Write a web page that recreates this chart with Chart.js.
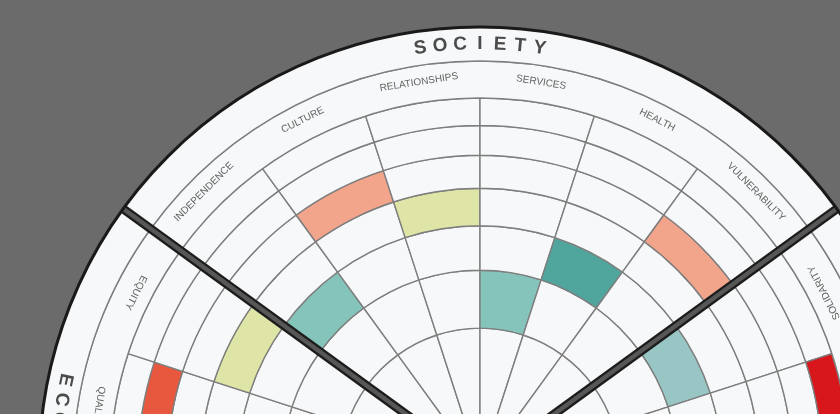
<!DOCTYPE html>
<html>
<head>
<meta charset="utf-8">
<script src="https://cdn.jsdelivr.net/npm/chart.js@4.4.1/dist/chart.umd.min.js"></script>
<style>
  html, body { margin: 0; padding: 0; width: 840px; height: 414px; overflow: hidden; background: #6b6b6b; }
  #wrap { position: absolute; left: 0; top: 0; width: 960px; height: 936px; }
</style>
</head>
<body>
<div id="wrap"><canvas id="wheel" width="960" height="936"></canvas></div>
<script>
// Sectors, clockwise starting with the top one
const sectorNames = ['SOCIETY', 'ENVIRONMENT', 'ECONOMY'];

// Society: left to right
const societyCategories = ['INDEPENDENCE', 'CULTURE', 'RELATIONSHIPS', 'SERVICES', 'HEALTH', 'VULNERABILITY'];
const societyScores = [3, 5, 4, 2, 3, 5];
const societyStatus = ['good', 'weak', 'moderate', 'good', 'strong', 'weak'];

// Environment: going down from the society separator
const environmentCategories = ['SOLIDARITY', 'RESOURCES', 'ENERGY', 'WATER', 'LAND', 'AIR', 'BIODIVERSITY'];
const environmentScores = [3, 7, null, null, null, null, null];
const environmentStatus = ['adequate', 'critical', null, null, null, null, null];

// Economy: going down from the society separator
const economyCategories = ['EQUITY', 'QUALITY', 'EMPLOYMENT', 'INCOME', 'INVESTMENT', 'INNOVATION', 'TRADE'];
const economyScores = [4, 6, null, null, null, null, null];
const economyStatus = ['moderate', 'poor', null, null, null, null, null];

// Score rings, inner (1) to outer (7)
const levels = [1, 2, 3, 4, 5, 6, 7];

// ---- styles ----
const STATUS_COLORS = {
  critical: '#d8171d',
  poor: '#e8583f',
  weak: '#f3a58b',
  moderate: '#dfe5a6',
  adequate: '#97c6c4',
  good: '#84c4bb',
  strong: '#50a69d'
};
const CELL = '#f7f8f9';
const GRID = '#7e7e7e';
const OUTER_R = 441;
const NAME_BAND = 34;
const LABEL_BAND = 37;
const DATA_R = OUTER_R - NAME_BAND - LABEL_BAND;

// clockwise order round the wheel (economy is listed top-down, so reverse it)
const allCategories = [...societyCategories, ...environmentCategories, ...economyCategories.slice().reverse()];
const allScores = [...societyScores, ...environmentScores, ...economyScores.slice().reverse()];
const allStatus = [...societyStatus, ...environmentStatus, ...economyStatus.slice().reverse()];
const sectorSizes = [societyCategories.length, environmentCategories.length, economyCategories.length];
const sectorOf = allCategories.map((_, i) => i < sectorSizes[0] ? 0 : (i < sectorSizes[0] + sectorSizes[1] ? 1 : 2));

// equal-area score rings
const ringRadius = k => DATA_R * Math.sqrt(k / levels.length);

const datasets = [
  { data: sectorSizes, weight: NAME_BAND, backgroundColor: CELL, borderColor: GRID, borderWidth: 1.4 },
  { data: sectorSizes, weight: LABEL_BAND, backgroundColor: CELL, borderColor: GRID, borderWidth: 1.4 }
];
levels.slice().reverse().forEach(k => {
  datasets.push({
    data: allCategories.map(() => 1),
    weight: ringRadius(k) - ringRadius(k - 1),
    backgroundColor: allScores.map((s, i) => s === k ? STATUS_COLORS[allStatus[i]] : CELL),
    borderColor: GRID,
    borderWidth: 1.4
  });
});

const wheelDecor = {
  id: 'wheelDecor',
  afterDatasetsDraw(chart) {
    const ctx = chart.ctx;
    const bands = chart.getDatasetMeta(0).data;
    const labelArcs = chart.getDatasetMeta(1).data;
    const cells = chart.getDatasetMeta(2).data;
    const cx = bands[0].x, cy = bands[0].y, R = bands[0].outerRadius;
    const nameR = (bands[0].innerRadius + bands[0].outerRadius) / 2;
    const labelR = (labelArcs[0].innerRadius + labelArcs[0].outerRadius) / 2 + 2;
    const deg = Math.PI / 180;

    // category labels
    ctx.save();
    ctx.font = '10px "Liberation Sans", Arial, sans-serif';
    ctx.fillStyle = '#636363';
    ctx.textAlign = 'center';
    ctx.textBaseline = 'middle';
    cells.forEach((c, i) => {
      const a = (c.startAngle + c.endAngle) / 2;
      const flip = sectorOf[i] !== 0;
      const r = flip ? labelR - 4 : labelR;
      ctx.save();
      ctx.translate(cx + r * Math.cos(a), cy + r * Math.sin(a));
      ctx.rotate(flip ? a - Math.PI / 2 : a + Math.PI / 2);
      ctx.fillText(allCategories[i], 0, 0);
      ctx.restore();
    });
    ctx.restore();

    // sector names, letter by letter along the band
    ctx.save();
    ctx.font = 'bold 19px "Liberation Sans", Arial, sans-serif';
    ctx.fillStyle = '#4b4b4b';
    ctx.textAlign = 'center';
    ctx.textBaseline = 'middle';
    const step = 2.7 * deg;
    bands.forEach((b, s) => {
      const name = sectorNames[s];
      const n = name.length;
      let first, dir, flip;
      if (s === 0) {
        first = (b.startAngle + b.endAngle) / 2 - (n - 1) / 2 * step; dir = 1; flip = false;
      } else if (s === 2) {
        first = b.endAngle - 24 * deg; dir = -1; flip = true;
      } else {
        first = b.startAngle + 24 * deg + (n - 1) * step; dir = -1; flip = true;
      }
      for (let i = 0; i < n; i++) {
        const a = first + dir * i * step;
        ctx.save();
        ctx.translate(cx + nameR * Math.cos(a), cy + nameR * Math.sin(a));
        ctx.rotate(flip ? a - Math.PI / 2 : a + Math.PI / 2);
        ctx.fillText(name[i], 0, 0);
        ctx.restore();
      }
    });
    ctx.restore();

    // thick separators between sectors
    ctx.save();
    ctx.lineCap = 'butt';
    bands.forEach(b => {
      const a = b.startAngle;
      const x = cx + R * Math.cos(a), y = cy + R * Math.sin(a);
      ctx.beginPath();
      ctx.moveTo(cx, cy);
      ctx.lineTo(x, y);
      ctx.strokeStyle = '#1c1c1c';
      ctx.lineWidth = 9;
      ctx.stroke();
      ctx.strokeStyle = '#575757';
      ctx.lineWidth = 4.5;
      ctx.stroke();
    });
    ctx.restore();

    // outer rim
    ctx.save();
    ctx.beginPath();
    ctx.arc(cx, cy, R, 0, Math.PI * 2);
    ctx.strokeStyle = '#1a1a1a';
    ctx.lineWidth = 3;
    ctx.stroke();
    ctx.restore();
  }
};

new Chart(document.getElementById('wheel'), {
  type: 'doughnut',
  data: { labels: allCategories, datasets },
  options: {
    responsive: false,
    devicePixelRatio: 1,
    animation: false,
    events: [],
    radius: OUTER_R,
    cutout: 0,
    rotation: -54,
    circumference: 360,
    layout: { padding: 0 },
    plugins: { legend: { display: false }, tooltip: { enabled: false } }
  },
  plugins: [wheelDecor]
});
</script>
</body>
</html>
